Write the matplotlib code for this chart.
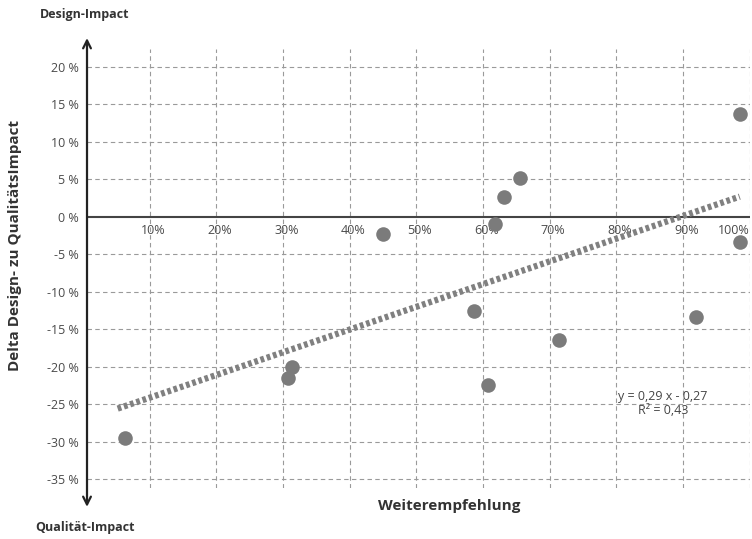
import numpy as np
import matplotlib
matplotlib.use("Agg")
import matplotlib.pyplot as plt

plt.rcParams['font.family'] = ['Open Sans', 'DejaVu Sans']

# Weiterempfehlung (x) vs Delta Design- zu Qualitaetsimpact (y)
weiterempfehlung = [0.063, 0.307, 0.313, 0.450, 0.586, 0.607, 0.618,
                    0.631, 0.655, 0.714, 0.919, 0.985, 0.985]
delta = [-0.295, -0.215, -0.200, -0.023, -0.126, -0.224, -0.010,
         0.027, 0.052, -0.165, -0.134, 0.137, -0.034]

# trendline endpoints as drawn
trend_x = [0.052, 0.985]
trend_y = [-0.256, 0.027]

x_ticks = [0.1, 0.2, 0.3, 0.4, 0.5, 0.6, 0.7, 0.8, 0.9, 1.0]
y_ticks = [0.20, 0.15, 0.10, 0.05, 0.0, -0.05, -0.10, -0.15, -0.20, -0.25, -0.30, -0.35]

fig = plt.figure(figsize=(7.52, 5.39), dpi=100)
ax = fig.add_axes([0.1157, 0.0946, 0.8813, 0.8144])
ax.set_xlim(0.006, 1.0)
ax.set_ylim(-0.362, 0.224)

for s in ax.spines.values():
    s.set_visible(False)

# grid
for xt in x_ticks:
    ax.axvline(xt, color='#9a9a9a', lw=0.8, ls=(0, (4, 3)), zorder=1)
for yt in y_ticks:
    if yt != 0:
        ax.axhline(yt, color='#9a9a9a', lw=0.8, ls=(0, (4, 3)), zorder=1)
ax.axhline(0, color='#444444', lw=1.5, zorder=2)

ax.set_xticks([])
ax.set_yticks(y_ticks)
ax.set_yticklabels(['%d %%' % round(v * 100) for v in y_ticks], color='#4a4a4a', fontsize=9)
ax.tick_params(axis='y', length=0, pad=6)

for xt in x_ticks:
    if xt >= 1.0:
        ax.text(1.0, -0.009, '%d%%' % round(xt * 100), ha='right', va='top',
                fontsize=9, color='#4a4a4a', zorder=3)
    else:
        ax.text(xt + 0.005, -0.009, '%d%%' % round(xt * 100), ha='center', va='top',
                fontsize=9, color='#4a4a4a', zorder=3)

# y axis with arrows
ax.annotate('', xy=(0, 1.025), xytext=(0, -0.043), xycoords='axes fraction',
            arrowprops=dict(arrowstyle='<->', lw=1.6, color='#222222',
                            mutation_scale=14, shrinkA=0, shrinkB=0),
            annotation_clip=False)

# data
ax.plot(trend_x, trend_y, color='#808080', lw=4.5, ls=(0, (0.6, 0.45)),
        solid_capstyle='butt', dash_capstyle='butt', zorder=3)
ax.scatter(weiterempfehlung, delta, s=110, color='#7b7b7b', zorder=4, linewidths=0)

ax.text(0.870, -0.240, 'y = 0,29 x - 0,27', ha='center', va='center', fontsize=9, color='#444444')
ax.text(0.870, -0.259, 'R² = 0,43', ha='center', va='center', fontsize=9, color='#444444')

fig.text(0.597, 0.061, 'Weiterempfehlung', ha='center', va='center', fontsize=11,
         fontweight='bold', color='#333333')
fig.text(0.02, 0.545, 'Delta Design- zu QualitätsImpact', rotation=90, ha='center',
         va='center', fontsize=11, fontweight='bold', color='#333333')
fig.text(0.113, 0.974, 'Design-Impact', ha='center', va='center', fontsize=9,
         fontweight='bold', color='#333333')
fig.text(0.113, 0.022, 'Qualität-Impact', ha='center', va='center', fontsize=9,
         fontweight='bold', color='#333333')

fig.savefig('out.png', dpi=100)
